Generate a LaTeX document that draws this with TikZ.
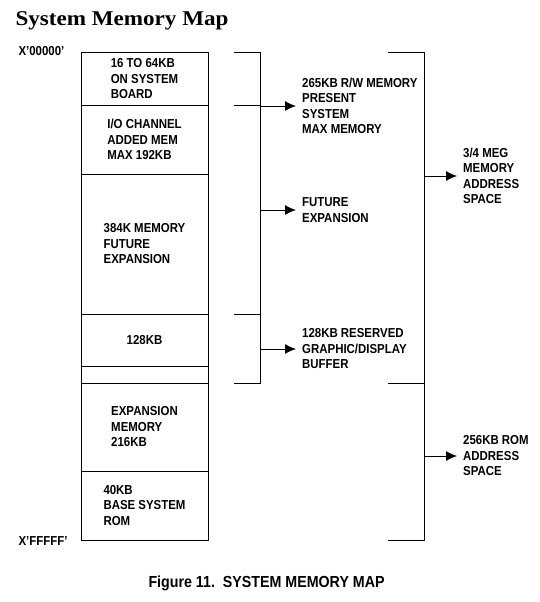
\documentclass[tikz,border=0pt]{standalone}
\usepackage{fontspec}
\setmainfont{Liberation Sans}
\newfontfamily\titlefont[FakeStretch=1.1]{Liberation Serif}
\newfontfamily\capfont[FakeStretch=0.89]{Liberation Sans}
\newfontfamily\mapfont[FakeStretch=0.88]{Liberation Sans}
\usetikzlibrary{arrows.meta,positioning}

\begin{document}
\begin{tikzpicture}[x=1pt,y=-1pt,
  blk/.style={draw,line width=1pt,minimum width=127pt,inner sep=0pt,outer sep=0pt,align=left,font=\mapfont\bfseries\fontsize{13}{15.5}\selectfont},
  lbl/.style={anchor=west,align=left,inner sep=6pt,font=\mapfont\bfseries\fontsize{13}{15.5}\selectfont},
  addr/.style={anchor=base west,font=\mapfont\bfseries\fontsize{13}{15.5}\selectfont},
  brk/.style={line width=1pt},
  arr/.style={line width=1pt,-{Latex[length=11pt,width=10pt]}}]
\useasboundingbox (0,0) rectangle (540,602);

\node[anchor=base west,font=\titlefont\bfseries\fontsize{21}{24}\selectfont] (title) at (12,26) {System Memory Map};

\node[blk,anchor=north west,minimum height=52pt] (b1) at (81,53) {16 TO 64KB\\ON SYSTEM\\BOARD};
\node[blk,minimum height=69pt,below=0pt of b1] (b2) {I/O CHANNEL\\ADDED MEM\\MAX 192KB};
\node[blk,minimum height=140pt,below=0pt of b2] (b3) {384K MEMORY\\FUTURE\\EXPANSION};
\node[blk,minimum height=52pt,below=0pt of b3] (b4) {128KB};
\node[blk,minimum height=17pt,below=0pt of b4] (b5) {};
\node[blk,minimum height=88pt,below=0pt of b5] (b6) {EXPANSION\\MEMORY\\216KB};
\node[blk,minimum height=69pt,below=0pt of b6] (b7) {40KB\\BASE SYSTEM\\ROM};

\node[addr] (top) at (15,56) {X’00000’};
\node[addr] (bot) at (15,545) {X’FFFFF’};

\draw[brk] ([xshift=26pt]b1.north east) -- ++(26,0) |- ([xshift=26pt]b5.south east);
\draw[brk] ([xshift=26pt]b2.north east) -- ++(26,0);
\draw[brk] ([xshift=26pt]b4.north east) -- ++(26,0);
\coordinate (s1) at ([xshift=52pt]b1.north east);

\draw[brk] ([xshift=180pt]b1.north east) -- ++(36,0) |- ([xshift=180pt]b7.south east);
\draw[brk] ([xshift=180pt]b6.north east) -- ++(36,0);
\coordinate (s2) at ([xshift=216pt]b1.north east);

\node[lbl] (l1) at (296,106) {265KB R/W MEMORY\\PRESENT\\SYSTEM\\MAX MEMORY};
\node[lbl] (l2) at (296,210) {FUTURE\\EXPANSION};
\node[lbl] (l3) at (296,349) {128KB RESERVED\\GRAPHIC/DISPLAY\\BUFFER};
\node[lbl] (r1) at (457,176) {3/4 MEG\\MEMORY\\ADDRESS\\SPACE};
\node[lbl] (r2) at (457,456) {256KB ROM\\ADDRESS\\SPACE};

\draw[arr] (s1 |- l1.west) -- (l1.west);
\draw[arr] (s1 |- l2.west) -- (l2.west);
\draw[arr] (s1 |- l3.west) -- (l3.west);
\draw[arr] (s2 |- r1.west) -- (r1.west);
\draw[arr] (s2 |- r2.west) -- (r2.west);

\node[anchor=base west,font=\capfont\bfseries\fontsize{16}{18}\selectfont] (cap) at (145,587) {Figure 11.\ \ SYSTEM MEMORY MAP};
\end{tikzpicture}
\end{document}
